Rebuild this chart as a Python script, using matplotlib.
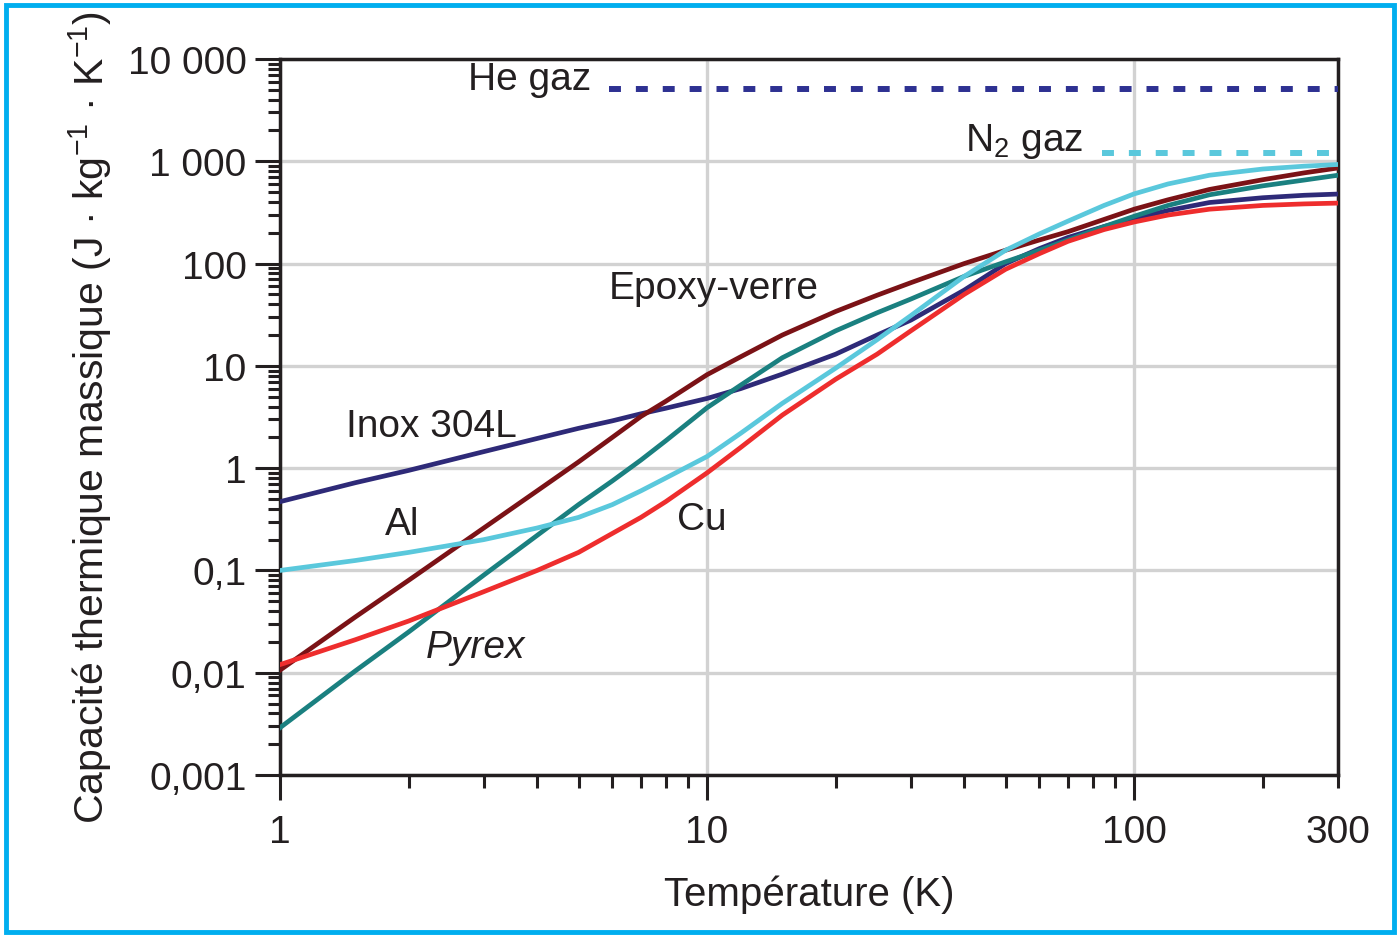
import matplotlib
matplotlib.use("Agg")
import matplotlib.pyplot as plt
from matplotlib.ticker import FixedLocator, NullFormatter, LogLocator
from matplotlib.patches import Rectangle

plt.rcParams['font.family'] = ['Liberation Sans', 'DejaVu Sans']
plt.rcParams['mathtext.fontset'] = 'custom'
plt.rcParams['mathtext.rm'] = 'Liberation Sans'
plt.rcParams['mathtext.it'] = 'Liberation Sans:italic'

# temperatures (K) where the curves were read
temp = [1, 1.5, 2, 3, 4, 5, 6, 7, 8, 10, 12, 15, 20, 25, 30, 40, 50, 60, 70, 85,
        100, 120, 150, 200, 250, 300]

inox = [0.47, 0.72, 0.95, 1.45, 1.95, 2.45, 2.9, 3.4, 3.85, 4.8, 6.0, 8.3, 13, 20, 28, 55,
        100, 140, 180, 230, 275, 330, 395, 440, 465, 478]
al = [0.1, 0.125, 0.15, 0.2, 0.26, 0.33, 0.44, 0.6, 0.8, 1.3, 2.2, 4.3, 9.5, 18, 31, 75,
      135, 195, 260, 370, 480, 600, 730, 840, 895, 930]
cu = [0.012, 0.021, 0.032, 0.062, 0.1, 0.15, 0.23, 0.33, 0.47, 0.9, 1.6, 3.3, 7.4, 13, 22, 50,
      88, 125, 165, 215, 255, 298, 340, 370, 383, 390]
epoxy = [0.0106, 0.035, 0.08, 0.26, 0.6, 1.15, 2.0, 3.2, 4.5, 8.2, 12.3, 20, 34, 49, 65, 100,
         135, 170, 205, 270, 340, 420, 530, 660, 770, 860]
pyrex = [0.0029, 0.0104, 0.025, 0.09, 0.22, 0.44, 0.75, 1.2, 1.85, 3.9, 6.5, 12, 22, 33, 45, 75,
         104, 135, 170, 230, 290, 370, 470, 575, 655, 730]

he_x = [5.9, 300]
he_y = [5100, 5100]
n2_x = [84, 300]
n2_y = [1200, 1200]

ytick_vals = [0.001, 0.01, 0.1, 1, 10, 100, 1000, 10000]
ytick_labels = ['0,001', '0,01', '0,1', '1', '10', '100', '1 000', '10 000']

fs = 28
dark = '#231f20'

fig = plt.figure(figsize=(14, 9.37), dpi=100)
ax = fig.add_axes([0.2, 0.1718, 0.7557, 0.7642])

ax.set_xscale('log')
ax.set_yscale('log')
ax.set_xlim(1, 300)
ax.set_ylim(0.001, 10000)

# grid
for v in [1, 10, 100, 300]:
    ax.axvline(v, color='#d2d2d2', lw=2.4, zorder=0)
for v in ytick_vals:
    ax.axhline(v, color='#d2d2d2', lw=2.4, zorder=0)

lw = 3.4
ax.plot(temp, inox, color='#2e2a78', lw=lw, zorder=3)
ax.plot(temp, pyrex, color='#1a8080', lw=lw, zorder=3)
ax.plot(temp, epoxy, color='#7b1216', lw=lw, zorder=3)
ax.plot(temp, al, color='#5ac8dc', lw=lw, zorder=4)
ax.plot(temp, cu, color='#ee2d2d', lw=lw, zorder=4)

ax.plot(he_x, he_y, color='#2e3192', lw=4.3, dashes=(2, 2.5), dash_capstyle='butt', zorder=3)
ax.plot(n2_x, n2_y, color='#5ac8dc', lw=4.3, dashes=(2, 2.5), dash_capstyle='butt', zorder=3)

# curve labels
ax.text(5.35, 6400, 'He gaz', fontsize=fs, ha='right', va='center', color=dark)
ax.text(76, 1600, r'N$_2$ gaz', fontsize=fs, ha='right', va='center', color=dark)
ax.text(5.9, 58, 'Epoxy-verre', fontsize=fs, ha='left', va='center', color=dark)
ax.text(1.43, 2.56, 'Inox 304L', fontsize=fs, ha='left', va='center', color=dark)
ax.text(1.76, 0.285, 'Al', fontsize=fs, ha='left', va='center', color=dark)
ax.text(8.5, 0.318, 'Cu', fontsize=fs, ha='left', va='center', color=dark)
ax.text(2.2, 0.018, 'Pyrex', fontsize=fs, ha='left', va='center', color=dark, style='italic')

# ticks
ax.xaxis.set_major_locator(FixedLocator([1, 10, 100]))
ax.xaxis.set_minor_locator(FixedLocator([2, 3, 4, 5, 6, 7, 8, 9, 20, 30, 40, 50, 60, 70, 80, 90, 200, 300]))
ax.set_xticks([1, 10, 100])
ax.set_xticklabels(['1', '10', '100'])
ax.xaxis.set_minor_formatter(NullFormatter())

ax.set_yticks(ytick_vals)
ax.set_yticklabels(ytick_labels)
ax.yaxis.set_minor_locator(LogLocator(base=10, subs=range(2, 10), numticks=20))
ax.yaxis.set_minor_formatter(NullFormatter())

ax.tick_params(which='major', length=18, width=2.2, color=dark, labelsize=fs, labelcolor=dark)
ax.tick_params(axis='x', which='major', pad=10)
ax.tick_params(axis='y', which='major', pad=6)
ax.tick_params(which='minor', length=9, width=2.2, color=dark)

# "300" label sits level with the major x labels
ax.annotate('300', xy=(300, 0), xycoords=('data', 'axes fraction'),
            xytext=(0, -28), textcoords='offset points',
            fontsize=fs, ha='center', va='top', color=dark)

for s in ax.spines.values():
    s.set_linewidth(2.5)
    s.set_color(dark)

ax.set_xlabel('Température (K)', fontsize=29, color=dark, labelpad=18)
ax.set_ylabel(r'Capacité thermique massique (J · kg$^{-1}$ · K$^{-1}$)', fontsize=29.5,
              color=dark, labelpad=10)

# outer frame
fig.patches.append(Rectangle((0.004, 0.004), 0.992, 0.99, transform=fig.transFigure,
                             fill=False, edgecolor='#00aeef', lw=3.5))

fig.savefig('out.png', dpi=100)
